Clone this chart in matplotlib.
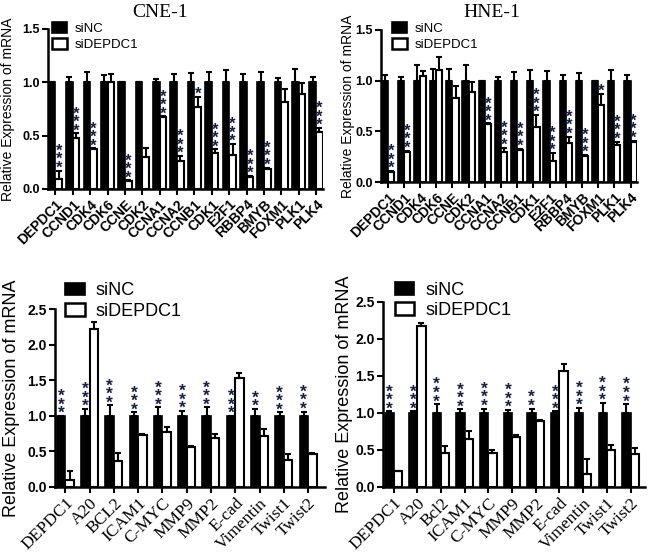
import numpy as np
import matplotlib
matplotlib.use("Agg")
import matplotlib.pyplot as plt
from matplotlib.patches import Patch

# ── data ──────────────────────────────────────────────────────────────────────
genes_top = ["DEPDC1", "CCND1", "CDK4", "CDK6", "CCNE", "CDK2", "CCNA1", "CCNA2",
             "CCNB1", "CDK1", "E2F1", "RBBP4", "BMYB", "FOXM1", "PLK1", "PLK4"]

cne_nc     = [1.0] * 16
cne_nc_err = [0.0, 0.05, 0.10, 0.07, 0.0, 0.0, 0.03, 0.08, 0.09, 0.10, 0.11, 0.08, 0.10, 0.04, 0.12, 0.05]
cne_si     = [0.09, 0.48, 0.37, 1.00, 0.07, 0.30, 0.67, 0.26, 0.77, 0.34, 0.32, 0.11, 0.19, 0.81, 0.89, 0.53]
cne_si_err = [0.08, 0.04, 0.01, 0.08, 0.01, 0.08, 0.01, 0.05, 0.09, 0.03, 0.10, 0.01, 0.01, 0.13, 0.10, 0.04]
cne_stars  = ["***", "***", "***", "", "***", "", "***", "***", "*", "***", "***", "***", "***", "", "", "***"]

hne_nc     = [1.0] * 16
hne_nc_err = [0.06, 0.04, 0.15, 0.12, 0.12, 0.15, 0.0, 0.04, 0.09, 0.11, 0.10, 0.06, 0.08, 0.0, 0.11, 0.06]
hne_si     = [0.10, 0.30, 1.05, 1.11, 0.83, 0.89, 0.57, 0.30, 0.32, 0.54, 0.21, 0.39, 0.26, 0.76, 0.37, 0.40]
hne_si_err = [0.01, 0.01, 0.05, 0.12, 0.12, 0.10, 0.01, 0.04, 0.01, 0.12, 0.08, 0.06, 0.01, 0.11, 0.03, 0.01]
hne_stars  = ["***", "***", "", "", "", "", "***", "***", "***", "***", "***", "***", "***", "*", "***", "***"]

genes_cne_bot = ["DEPDC1", "A20", "BCL2", "ICAM1", "C-MYC", "MMP9", "MMP2", "E-cad", "Vimentin", "Twist1", "Twist2"]
genes_hne_bot = ["DEPDC1", "A20", "Bcl2", "ICAM1", "C-MYC", "MMP9", "MMP2", "E-cad", "Vimentin", "Twist1", "Twist2"]

cneb_nc     = [1.0] * 11
cneb_nc_err = [0.0, 0.10, 0.15, 0.05, 0.12, 0.07, 0.12, 0.0, 0.10, 0.05, 0.06]
cneb_si     = [0.10, 2.22, 0.36, 0.73, 0.77, 0.56, 0.69, 1.53, 0.71, 0.38, 0.47]
cneb_si_err = [0.12, 0.10, 0.12, 0.01, 0.08, 0.01, 0.06, 0.07, 0.11, 0.09, 0.01]
cneb_stars  = ["***", "***", "***", "***", "***", "***", "***", "***", "**", "***", "***"]

hneb_nc     = [1.0] * 11
hneb_nc_err = [0.02, 0.02, 0.12, 0.05, 0.06, 0.04, 0.06, 0.02, 0.07, 0.14, 0.12]
hneb_si     = [0.21, 2.17, 0.46, 0.65, 0.46, 0.67, 0.89, 1.57, 0.17, 0.50, 0.44]
hneb_si_err = [0.01, 0.05, 0.09, 0.10, 0.04, 0.03, 0.02, 0.09, 0.21, 0.07, 0.09]
hneb_stars  = ["***", "***", "***", "***", "***", "***", "**", "***", "***", "***", "***"]

# ── style ─────────────────────────────────────────────────────────────────────
SANS = "Liberation Sans"
SERIF = "Liberation Serif"
C_STAR = "#1a1d40"


def panel(ax, genes, nc, nc_err, si, si_err, stars, ymax, yticks, star_on,
          width, xlim, tick_font, tick_size, ytick_size, label_size, leg_size,
          label_x, leg_anchor, leg_hl, leg_hh, star_size):
    x = np.arange(len(genes))
    nc = np.array(nc)
    si = np.array(si)
    nc_err = np.array(nc_err)
    si_err = np.array(si_err)
    off = width / 2

    ax.bar(x - off, nc, width, color="black", edgecolor="black", linewidth=1.2, zorder=2)
    ax.bar(x + off, si, width, color="white", edgecolor="black", linewidth=1.5, zorder=2)
    ax.errorbar(x - off, nc, yerr=[np.zeros_like(nc_err), nc_err], fmt="none",
                ecolor="black", elinewidth=1.5, capsize=2.2, capthick=1.5, zorder=3)
    ax.errorbar(x + off, si, yerr=[np.zeros_like(si_err), si_err], fmt="none",
                ecolor="black", elinewidth=1.5, capsize=2.2, capthick=1.5, zorder=3)

    # significance marks, one asterisk per line, stacked tightly
    for i, s in enumerate(stars):
        if not s:
            continue
        if star_on == "si":
            xs, ys = x[i] + off, si[i] + si_err[i]
        else:
            xs, ys = x[i] - off, nc[i] + nc_err[i]
        ax.annotate("\n".join(s), (xs, ys), xytext=(0, -0.3 * star_size),
                    textcoords="offset points", ha="center", va="bottom",
                    fontsize=star_size, fontweight="bold", color=C_STAR,
                    family=SANS, linespacing=0.46, zorder=4)

    ax.set_xlim(*xlim)
    ax.set_ylim(0, ymax)
    ax.set_yticks(yticks)
    ax.set_yticklabels([f"{t:.1f}" for t in yticks], fontsize=ytick_size,
                       fontweight="bold", family=SANS)
    ax.set_xticks(x)
    weight = "bold" if tick_font == SANS else "normal"
    ax.set_xticklabels(genes, rotation=45, ha="right", rotation_mode="anchor",
                       fontsize=tick_size, fontweight=weight, family=tick_font)
    ax.spines[["top", "right"]].set_visible(False)
    ax.spines[["left", "bottom"]].set_linewidth(1.8)
    ax.tick_params(axis="both", direction="out", length=4, width=1.5, pad=2)
    ax.set_ylabel("Relative Expression of mRNA", fontsize=label_size, family=SANS)
    ax.yaxis.set_label_coords(label_x, 0.5)

    handles = [Patch(facecolor="black", edgecolor="black", linewidth=1.2, label="siNC"),
               Patch(facecolor="white", edgecolor="black", linewidth=1.8, label="siDEPDC1")]
    ax.legend(handles=handles, loc="upper left", bbox_to_anchor=leg_anchor,
              frameon=False, prop={"family": SANS, "size": leg_size},
              handlelength=leg_hl, handleheight=leg_hh, handletextpad=0.6,
              labelspacing=0.18, borderaxespad=0.0, borderpad=0.0)


fig = plt.figure(figsize=(6.5, 5.54), dpi=100, facecolor="white")

ax1 = fig.add_axes([0.074, 0.659, 0.423, 0.289])
panel(ax1, genes_top, cne_nc, cne_nc_err, cne_si, cne_si_err, cne_stars,
      1.5, [0.0, 0.5, 1.0, 1.5], "si", 0.38, (-0.42, 15.4), SANS, 10, 9, 10, 9.5,
      -0.12, (0.015, 1.04), 1.1, 0.9, 12)

ax2 = fig.add_axes([0.586, 0.671, 0.394, 0.275])
panel(ax2, genes_top, hne_nc, hne_nc_err, hne_si, hne_si_err, hne_stars,
      1.5, [0.0, 0.5, 1.0, 1.5], "si", 0.38, (-0.42, 15.4), SANS, 10, 9, 10, 9.5,
      -0.1, (0.045, 1.05), 1.1, 0.9, 12)

ax3 = fig.add_axes([0.085, 0.121, 0.415, 0.321])
panel(ax3, genes_cne_bot, cneb_nc, cneb_nc_err, cneb_si, cneb_si_err, cneb_stars,
      2.5, [0.0, 0.5, 1.0, 1.5, 2.0, 2.5], "nc", 0.35, (-0.42, 10.7), SERIF, 12.5, 10, 13, 13,
      -0.13, (0.035, 1.15), 1.1, 0.7, 12.5)

ax4 = fig.add_axes([0.589, 0.121, 0.403, 0.334])
panel(ax4, genes_hne_bot, hneb_nc, hneb_nc_err, hneb_si, hneb_si_err, hneb_stars,
      2.5, [0.0, 0.5, 1.0, 1.5, 2.0, 2.5], "nc", 0.35, (-0.45, 10.6), SERIF, 12.5, 10, 13, 13,
      -0.115, (0.045, 1.11), 1.1, 0.7, 12.5)

fig.text(0.246, 0.978, "CNE-1", ha="center", va="center", fontsize=14, family=SERIF)
fig.text(0.757, 0.978, "HNE-1", ha="center", va="center", fontsize=14, family=SERIF)

fig.savefig("out.png", dpi=100, facecolor="white")
